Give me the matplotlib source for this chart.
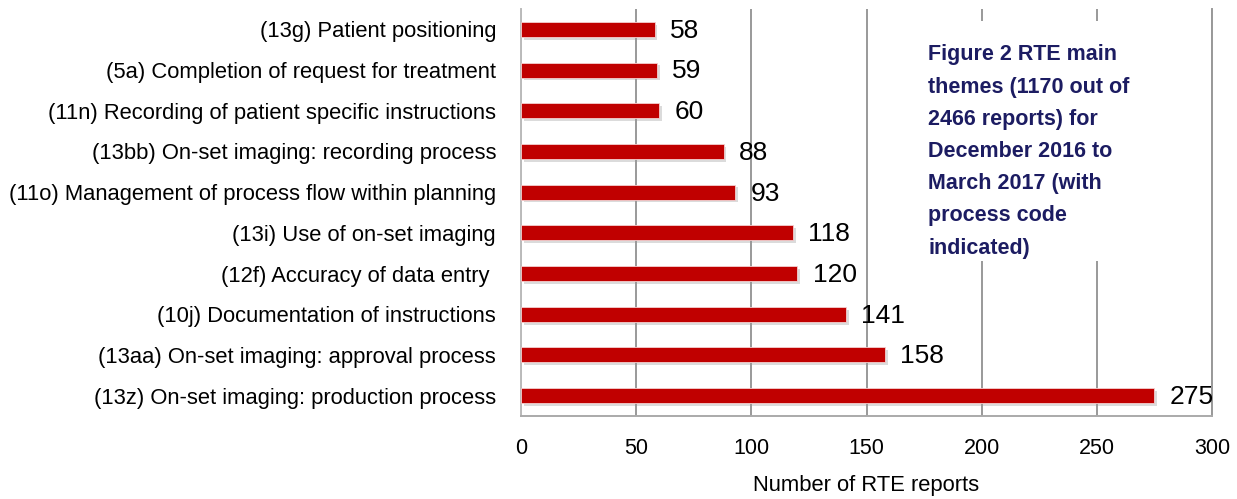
import matplotlib
matplotlib.use('Agg')
import matplotlib.pyplot as plt
import matplotlib.patheffects as pe
from matplotlib.patches import Rectangle

# RTE themes, top to bottom
themes = [
    '(13g) Patient positioning',
    '(5a) Completion of request for treatment',
    '(11n) Recording of patient specific instructions',
    '(13bb) On-set imaging: recording process',
    '(11o) Management of process flow within planning',
    '(13i) Use of on-set imaging',
    '(12f) Accuracy of data entry ',
    '(10j) Documentation of instructions',
    '(13aa) On-set imaging: approval process',
    '(13z) On-set imaging: production process',
]
counts = [58, 59, 60, 88, 93, 118, 120, 141, 158, 275]
x_ticks = [0, 50, 100, 150, 200, 250, 300]

caption = ('Figure 2 RTE main\nthemes (1170 out of\n2466 reports) for\n'
           'December 2016 to\nMarch 2017 (with\nprocess code\nindicated)')

font = ['Liberation Sans', 'DejaVu Sans']

fig = plt.figure(figsize=(12.37, 4.99), dpi=100)
ax = fig.add_axes([0.4212, 0.1663, 0.5586, 0.8157])

ypos = list(range(len(themes)))
bars = ax.barh(ypos, counts, height=0.37, color='#C00000', edgecolor='#f4d0d0',
               linewidth=0.6, zorder=3)
for b in bars:
    b.set_path_effects([pe.SimplePatchShadow(offset=(2, -2), shadow_rgbFace='#999999', alpha=0.35),
                        pe.Normal()])

for y, v in zip(ypos, counts):
    ax.annotate(str(v), (v, y), xytext=(11, -1), textcoords='offset points',
                va='center', ha='left', fontsize=19, family=font, color='black', zorder=5)

ax.set_xlim(0, 300)
ax.set_ylim(9.5, -0.5)
ax.set_xticks(x_ticks)
ax.set_xticklabels([str(t) for t in x_ticks], family=font, fontsize=15.5)
ax.set_yticks(ypos)
ax.set_yticklabels(themes, family=font, fontsize=15.8)
ax.tick_params(axis='both', length=0)
ax.tick_params(axis='x', pad=16)
ax.tick_params(axis='y', pad=18)

ax.grid(axis='x', color='#999999', linewidth=1.4, zorder=1)
ax.grid(axis='y', visible=False)
ax.spines['top'].set_visible(False)
ax.spines['left'].set_color('#bbbbbb')
ax.spines['bottom'].set_color('#aaaaaa')
ax.spines['right'].set_color('#999999')
for s in ['left', 'bottom', 'right']:
    ax.spines[s].set_linewidth(1.4)

ax.set_xlabel('Number of RTE reports', family=font, fontsize=15.8, labelpad=11)

# caption panel covering the upper right grid area
ax.add_patch(Rectangle((0.575, 0.38), 0.405, 0.59, transform=ax.transAxes,
                       facecolor='white', edgecolor='none', zorder=4))
ax.text(0.589, 0.913, caption, transform=ax.transAxes, ha='left', va='top',
        fontsize=15.5, fontweight='bold', family=font, color='#1c1c62',
        linespacing=1.70, zorder=6)

fig.savefig('out.png', dpi=100)
